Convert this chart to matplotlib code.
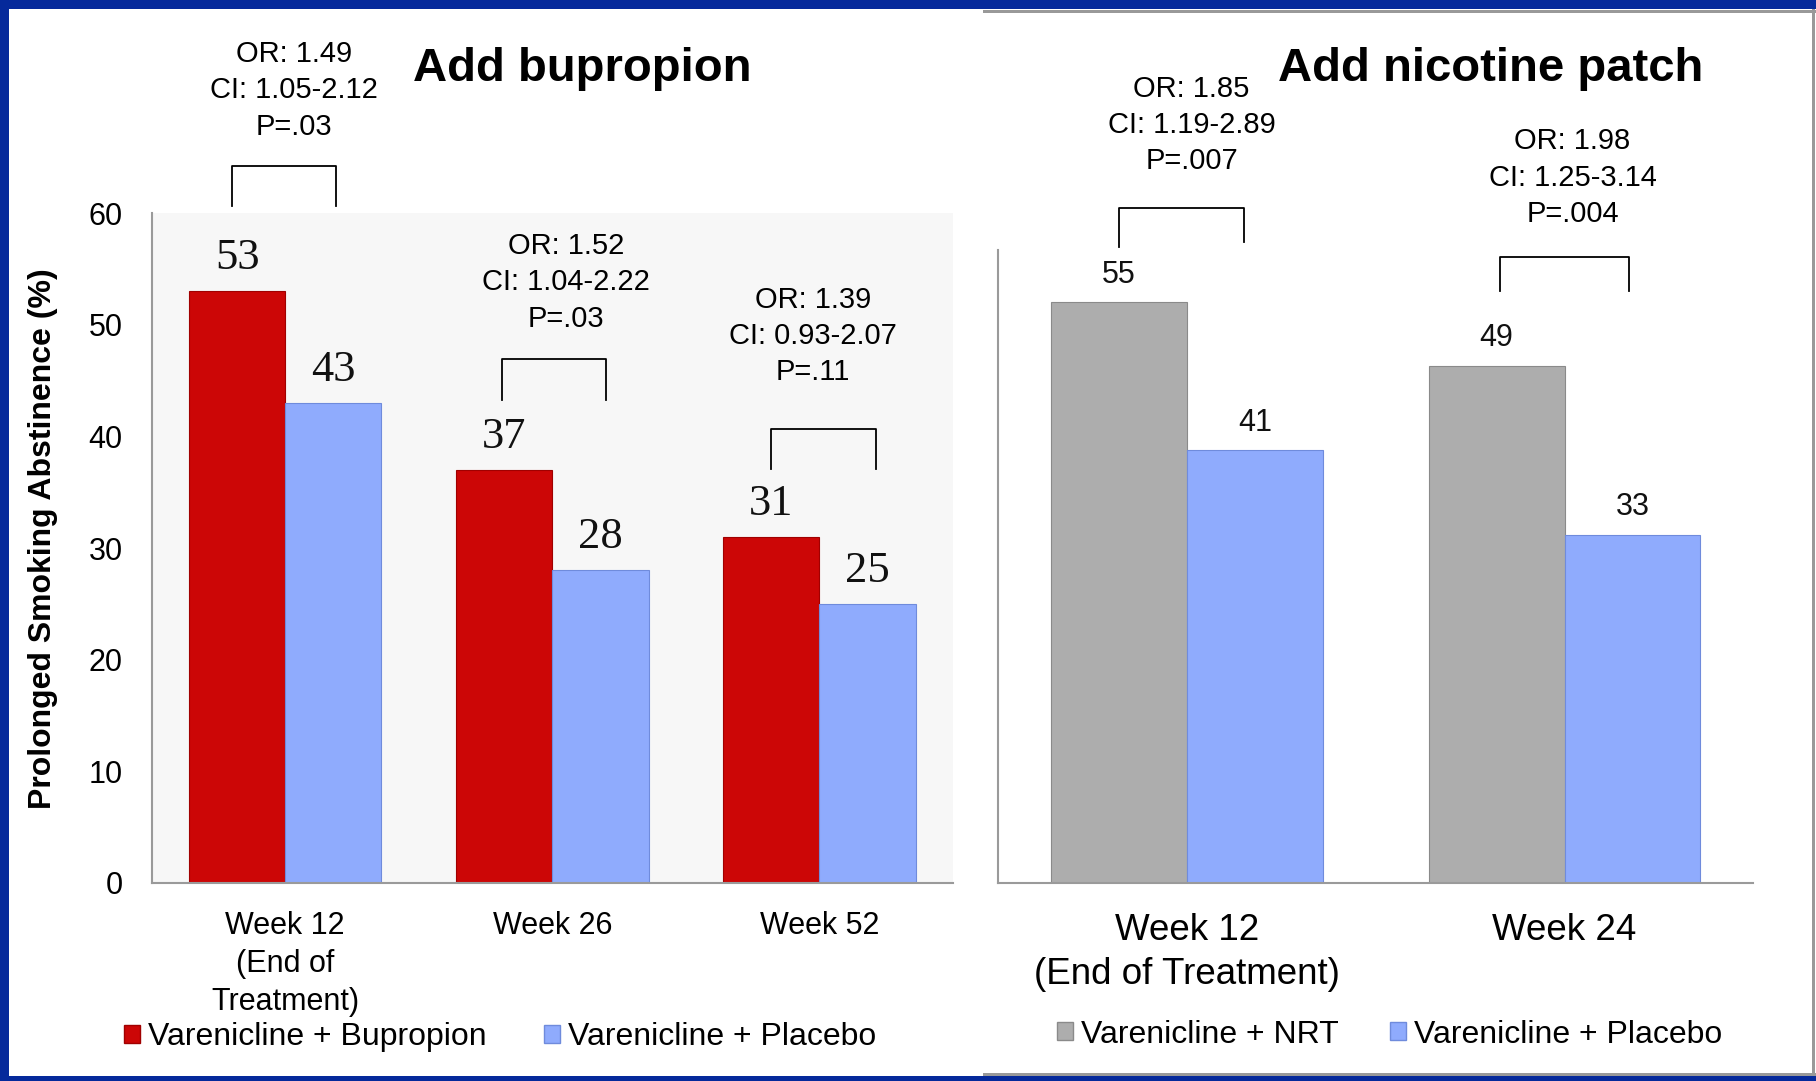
import matplotlib
matplotlib.use("Agg")
import matplotlib.pyplot as plt
from matplotlib.patches import Patch, Rectangle

plt.rcParams['font.family'] = ['Liberation Sans', 'DejaVu Sans']

# left panel: varenicline + bupropion vs placebo
bup_weeks = ['Week 12\n(End of\nTreatment)', 'Week 26', 'Week 52']
bup_combo = [53, 37, 31]
bup_placebo = [43, 28, 25]
bup_stats = ['OR: 1.49\nCI: 1.05-2.12\nP=.03',
             'OR: 1.52\nCI: 1.04-2.22\nP=.03',
             'OR: 1.39\nCI: 0.93-2.07\nP=.11']

# right panel: varenicline + nicotine patch vs placebo
nrt_weeks = ['Week 12\n(End of Treatment)', 'Week 24']
nrt_combo = [55, 49]
nrt_placebo = [41, 33]
nrt_stats = ['OR: 1.85\nCI: 1.19-2.89\nP=.007',
             'OR: 1.98\nCI: 1.25-3.14\nP=.004']

RED = '#cc0606'
BLUE = '#8fabfd'
GRAY = '#adadad'
NAVY = '#05299b'
SPINE = '#9a9a9a'
W = 0.36

fig = plt.figure(figsize=(18.16, 10.81), dpi=100)

# frame around the slide
def band(x0, y0, x1, y1, color):
    fig.add_artist(Rectangle((x0 / 1816, y0 / 1081), (x1 - x0) / 1816, (y1 - y0) / 1081,
                             transform=fig.transFigure, color=color, lw=0, zorder=10))

band(983, 1068, 1816, 1071, '#999999')
band(1812, 0, 1815, 1081, '#999999')
band(983, 5, 1816, 8, '#999999')
band(0, 1072, 1816, 1081, NAVY)
band(0, 0, 9, 1081, NAVY)
band(0, 0, 1816, 5, NAVY)

# ---- left panel ----
ax1 = fig.add_axes([0.0835, 0.1833, 0.4413, 0.6195])
ax1.set_facecolor('#f7f7f7')
x1 = range(len(bup_weeks))
b1 = ax1.bar([i - W / 2 for i in x1], bup_combo, W, color=RED, edgecolor='#a00000', lw=0.8)
b2 = ax1.bar([i + W / 2 for i in x1], bup_placebo, W, color=BLUE, edgecolor='#6f8bdc', lw=0.8)
for bars in (b1, b2):
    for r in bars:
        ax1.annotate(f'{r.get_height():g}', (r.get_x() + r.get_width() / 2, r.get_height()),
                     xytext=(0, 16), textcoords='offset points', ha='center', va='baseline',
                     fontsize=32, family='Liberation Serif', color='#111111')
ax1.set_xlim(-0.5, 2.5)
ax1.set_ylim(0, 60)
ax1.set_yticks(range(0, 61, 10))
ax1.set_xticks(list(x1))
ax1.set_xticklabels(bup_weeks, fontsize=22, linespacing=1.35)
ax1.tick_params(axis='y', length=0, pad=21, labelsize=22)
ax1.tick_params(axis='x', length=0, pad=20)
for s in ('top', 'right'):
    ax1.spines[s].set_visible(False)
for s in ('left', 'bottom'):
    ax1.spines[s].set_color(SPINE)
    ax1.spines[s].set_linewidth(1.5)

bup_brackets = [(-0.20, 0.19, 64.2, 60.6, 60.6),
                (0.81, 1.20, 46.9, 43.3, 43.3),
                (1.82, 2.21, 40.7, 37.1, 37.1)]
bup_text_pos = [(0.033, 71.0), (1.052, 53.8), (1.975, 49.0)]
for (xa, xb, top, la, lb), (tx, ty), s in zip(bup_brackets, bup_text_pos, bup_stats):
    ax1.plot([xa, xa, xb, xb], [la, top, top, lb], color='black', lw=1.3, clip_on=False)
    ax1.text(tx, ty, s, ha='center', va='center', fontsize=21, linespacing=1.38)

ax1.legend([Patch(facecolor=RED, edgecolor='#a00000'), Patch(facecolor=BLUE, edgecolor='#6f8bdc')],
           ['Varenicline + Bupropion', 'Varenicline + Placebo'],
           loc='center', bbox_to_anchor=(0.2755, 0.0407), bbox_transform=fig.transFigure,
           ncol=2, frameon=False, fontsize=23, handlelength=0.5, handleheight=0.5,
           handletextpad=0.25, columnspacing=1.8)

fig.text(0.0236, 0.502, 'Prolonged Smoking Abstinence (%)', rotation=90,
         ha='center', va='center', fontsize=23, fontweight='bold')
fig.text(0.3208, 0.9255, 'Add bupropion', ha='center', va='baseline',
         fontsize=34, fontweight='bold')

# ---- right panel ----
ax2 = fig.add_axes([0.5497, 0.1833, 0.4158, 0.5858])
x2 = range(len(nrt_weeks))
c1 = ax2.bar([i - W / 2 for i in x2], nrt_combo, W, color=GRAY, edgecolor='#8a8a8a', lw=0.8)
c2 = ax2.bar([i + W / 2 for i in x2], nrt_placebo, W, color=BLUE, edgecolor='#6f8bdc', lw=0.8)
for bars in (c1, c2):
    for r in bars:
        ax2.annotate(f'{r.get_height():g}', (r.get_x() + r.get_width() / 2, r.get_height()),
                     xytext=(0, 14), textcoords='offset points', ha='center', va='baseline',
                     fontsize=22, color='#111111')
ax2.set_xlim(-0.5, 1.5)
ax2.set_ylim(0, 60)
ax2.set_yticks([])
ax2.set_xticks(list(x2))
ax2.set_xticklabels(nrt_weeks, fontsize=26.5, linespacing=1.33)
ax2.tick_params(axis='x', length=0, pad=21.5)
for s in ('top', 'right'):
    ax2.spines[s].set_visible(False)
for s in ('left', 'bottom'):
    ax2.spines[s].set_color(SPINE)
    ax2.spines[s].set_linewidth(1.5)

nrt_brackets = [(-0.18, 0.15, 63.9, 60.2, 60.7),
                (0.83, 1.17, 59.3, 56.1, 56.1)]
nrt_text_pos = [(0.012, 71.8), (1.021, 66.8)]
for (xa, xb, top, la, lb), (tx, ty), s in zip(nrt_brackets, nrt_text_pos, nrt_stats):
    ax2.plot([xa, xa, xb, xb], [la, top, top, lb], color='black', lw=1.3, clip_on=False)
    ax2.text(tx, ty, s, ha='center', va='center', fontsize=21, linespacing=1.38)

ax2.legend([Patch(facecolor=GRAY, edgecolor='#8a8a8a'), Patch(facecolor=BLUE, edgecolor='#6f8bdc')],
           ['Varenicline + NRT', 'Varenicline + Placebo'],
           loc='center', bbox_to_anchor=(0.765, 0.0429), bbox_transform=fig.transFigure,
           ncol=2, frameon=False, fontsize=23, handlelength=0.5, handleheight=0.5,
           handletextpad=0.25, columnspacing=1.6)

fig.text(0.8211, 0.9255, 'Add nicotine patch', ha='center', va='baseline',
         fontsize=34, fontweight='bold')

fig.savefig('out.png', dpi=100)
